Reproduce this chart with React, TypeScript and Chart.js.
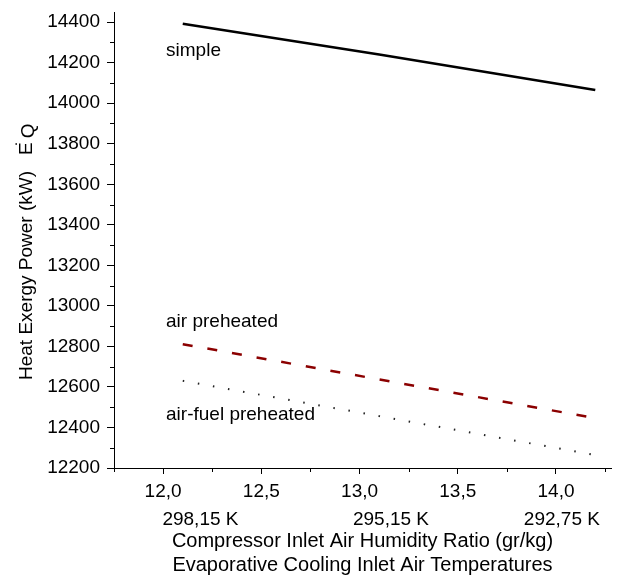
import React, { useEffect, useRef } from 'react';
import { Chart, registerables } from 'chart.js';

Chart.register(...registerables);

// ---- data ----
const humidity = [12.1, 13.1, 14.2];
const simple = [14392, 14240, 14065];
const airPreheated = [12811, 12637, 12446];
const airFuelPreheated = [12630, 12456, 12264];
const seriesNames = ['simple', 'air preheated', 'air-fuel preheated'];
const seriesLabelX = [12.015, 12.015, 12.015];
const seriesLabelY = [14232, 12897, 12437];
const temperatureLabels = ['298,15 K', '295,15 K', '292,75 K'];
const temperaturePositions = [12.19, 13.16, 14.03];
const xTitleLines = [
  'Compressor Inlet Air Humidity Ratio (gr/kg)',
  'Evaporative Cooling Inlet Air Temperatures',
];
const yTitleMain = 'Heat Exergy Power (kW)';
const yTitleSymbol = 'E';
const yTitleDot = '˙';
const yTitleSub = 'Q';

const X_MIN = 11.75;
const X_MAX = 14.28;
const Y_MIN = 12200;
const Y_MAX = 14450;

const FONT = "'Liberation Sans', Arial, sans-serif";

const isMajorX = (v: number) => Math.abs(v * 2 - Math.round(v * 2)) < 1e-6;
const isMajorY = (v: number) => Math.round(v) % 200 === 0;

const extrasPlugin = {
  id: 'extras',
  afterDraw(chart: any) {
    const { ctx } = chart;
    const xs = chart.scales.x;
    const ys = chart.scales.y;
    ctx.save();
    // minor ticks
    ctx.strokeStyle = '#000';
    ctx.lineWidth = 1;
    ctx.beginPath();
    xs.ticks.forEach((t: any) => {
      if (!isMajorX(t.value)) {
        const px = Math.round(xs.getPixelForValue(t.value)) + 0.5;
        ctx.moveTo(px, xs.top);
        ctx.lineTo(px, xs.top + 4);
      }
    });
    ys.ticks.forEach((t: any) => {
      if (!isMajorY(t.value)) {
        const py = Math.round(ys.getPixelForValue(t.value)) + 0.5;
        ctx.moveTo(ys.right, py);
        ctx.lineTo(ys.right - 4, py);
      }
    });
    ctx.stroke();

    // series labels
    ctx.fillStyle = '#000';
    ctx.font = `19px ${FONT}`;
    ctx.textAlign = 'left';
    ctx.textBaseline = 'alphabetic';
    seriesNames.forEach((name, i) => {
      ctx.fillText(name, xs.getPixelForValue(seriesLabelX[i]), ys.getPixelForValue(seriesLabelY[i]));
    });

    // y axis title with symbol
    ctx.translate(27, 380);
    ctx.rotate(-Math.PI / 2);
    ctx.textBaseline = 'middle';
    ctx.font = `19px ${FONT}`;
    ctx.fillText(yTitleMain, 0, 0);
    let off = ctx.measureText(yTitleMain).width + 16;
    ctx.fillText(yTitleSymbol, off, 0);
    off += ctx.measureText(yTitleSymbol).width;
    ctx.fillText(yTitleDot, off - 4, -3);
    off += 4;
    ctx.fillText(yTitleSub, off, 2);
    ctx.restore();
  },
};

export default function App() {
  const canvasRef = useRef<HTMLCanvasElement | null>(null);

  useEffect(() => {
    document.body.style.margin = '0';
    const canvas = canvasRef.current;
    if (!canvas) return;
    const toPts = (ys: number[]) => humidity.map((h, i) => ({ x: h, y: ys[i] }));
    const chart = new Chart(canvas, {
      type: 'line',
      data: {
        datasets: [
          {
            label: seriesNames[0],
            data: toPts(simple),
            borderColor: '#000000',
            borderWidth: 2.5,
            pointRadius: 0,
            fill: false,
          },
          {
            label: seriesNames[1],
            data: toPts(airPreheated),
            borderColor: '#8b0000',
            borderWidth: 2.5,
            borderDash: [10, 15],
            pointRadius: 0,
            fill: false,
          },
          {
            label: seriesNames[2],
            data: toPts(airFuelPreheated),
            borderColor: '#222222',
            borderWidth: 2,
            borderDash: [1.5, 13.8],
            pointRadius: 0,
            fill: false,
          },
        ],
      },
      options: {
        responsive: false,
        animation: false,
        layout: { padding: { top: 12, right: 10, left: 0, bottom: 0 } },
        plugins: { legend: { display: false }, tooltip: { enabled: false } },
        scales: {
          x: {
            type: 'linear',
            position: 'bottom',
            min: X_MIN,
            max: X_MAX,
            weight: 0,
            afterFit: (s: any) => {
              s.height = 40;
              s.paddingLeft = 0;
              s.paddingRight = 0;
            },
            border: { display: true, color: '#000', width: 1 },
            grid: {
              drawOnChartArea: false,
              drawTicks: true,
              tickLength: 6,
              tickColor: (c: any) => (c.tick && isMajorX(c.tick.value) ? '#000' : 'rgba(0,0,0,0)'),
            },
            ticks: {
              stepSize: 0.25,
              includeBounds: false,
              autoSkip: false,
              maxRotation: 0,
              padding: 6,
              color: '#000',
              font: { family: FONT, size: 19 },
              callback: (v: any) => (isMajorX(Number(v)) ? Number(v).toFixed(1).replace('.', ',') : ''),
            },
          },
          x2: {
            type: 'linear',
            position: 'bottom',
            min: X_MIN,
            max: X_MAX,
            weight: 1,
            afterBuildTicks: (s: any) => {
              s.ticks = temperaturePositions.map((v) => ({ value: v }));
            },
            afterFit: (s: any) => {
              s.height = 69;
              s.paddingLeft = 0;
              s.paddingRight = 0;
            },
            border: { display: false },
            grid: { display: false, drawTicks: false },
            ticks: {
              autoSkip: false,
              maxRotation: 0,
              padding: 0,
              color: '#000',
              font: { family: FONT, size: 19 },
              callback: (_v: any, i: number) => temperatureLabels[i],
            },
            title: {
              display: true,
              text: xTitleLines,
              color: '#000',
              font: { family: FONT, size: 20, lineHeight: 1.2 },
              padding: { top: 0, bottom: 0 },
            },
          },
          y: {
            type: 'linear',
            min: Y_MIN,
            max: Y_MAX,
            afterFit: (s: any) => {
              s.width = 114;
              s.paddingTop = 0;
              s.paddingBottom = 0;
            },
            border: { display: true, color: '#000', width: 1 },
            grid: {
              drawOnChartArea: false,
              drawTicks: true,
              tickLength: 7,
              tickColor: (c: any) => (c.tick && isMajorY(c.tick.value) ? '#000' : 'rgba(0,0,0,0)'),
            },
            ticks: {
              stepSize: 100,
              includeBounds: false,
              autoSkip: false,
              padding: 7,
              color: '#000',
              font: { family: FONT, size: 19 },
              callback: (v: any) => (isMajorY(Number(v)) ? String(Math.round(Number(v))) : ''),
            },
          },
        },
      },
      plugins: [extrasPlugin],
    } as any);
    return () => chart.destroy();
  }, []);

  return (
    <div style={{ width: 621, height: 577 }}>
      <canvas ref={canvasRef} width={621} height={577} style={{ display: 'block' }} />
    </div>
  );
}
